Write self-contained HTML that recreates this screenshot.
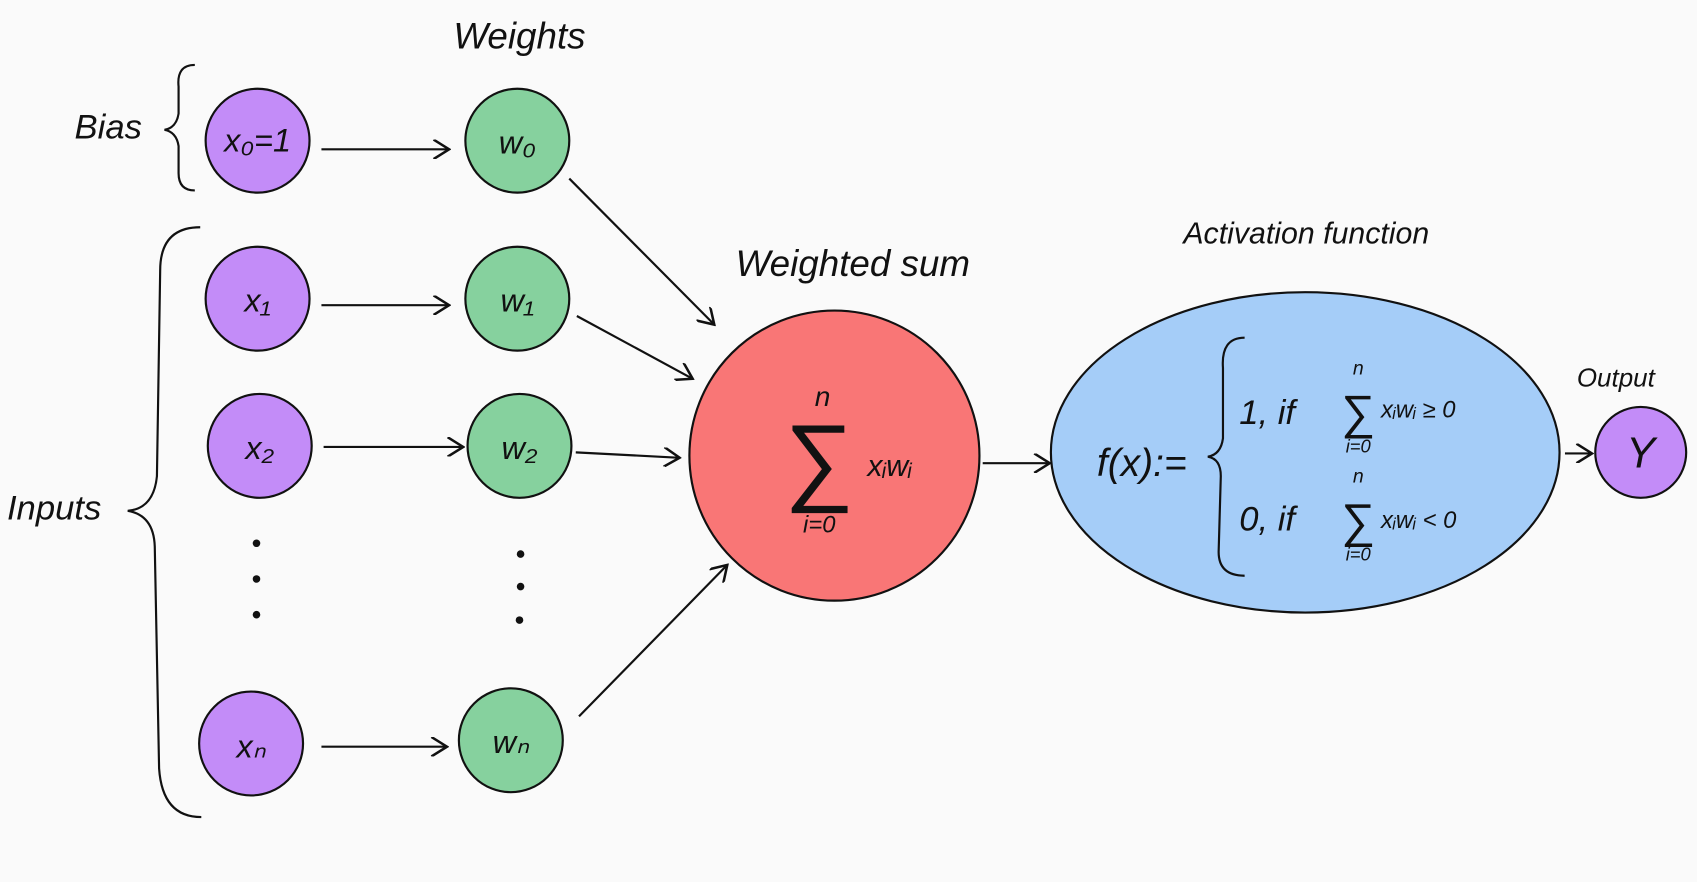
<!DOCTYPE html>
<html><head><meta charset="utf-8">
<style>
html,body{margin:0;padding:0;background:#fafafa;}
svg{display:block;}
text{font-family:"Liberation Sans",sans-serif;font-style:italic;fill:#111;}
</style></head>
<body>
<svg width="1697" height="882" viewBox="0 0 1568 815" preserveAspectRatio="none" xmlns="http://www.w3.org/2000/svg">
<defs>
<marker id="ah" viewBox="0 0 10 10" refX="9" refY="5" markerWidth="9" markerHeight="9" orient="auto-start-reverse">
<path d="M1,0 L9,5 L1,10" fill="none" stroke="#111" stroke-width="1.3"/>
</marker>
</defs>
<rect width="1568" height="815" fill="#fafafa"/>
<g stroke="#111" stroke-width="2" fill="none">
<path d="M180,60 Q163,60 165,80 L165,105 Q163,118 152,120 Q163,122 165,135 L165,160 Q165,176 180,176"/>
<path d="M185,210 Q148,210 148,250 L145,440 Q142,470 118,472 Q142,476 143,505 L147,710 Q150,755 186,755"/>
</g>
<g stroke="#111" stroke-width="2">
<circle cx="238" cy="130" r="48" fill="#c38cf8"/>
<circle cx="238" cy="276" r="48" fill="#c38cf8"/>
<circle cx="240" cy="412" r="48" fill="#c38cf8"/>
<circle cx="232" cy="687" r="48" fill="#c38cf8"/>
<circle cx="478" cy="130" r="48" fill="#86d19e"/>
<circle cx="478" cy="276" r="48" fill="#86d19e"/>
<circle cx="480" cy="412" r="48" fill="#86d19e"/>
<circle cx="472" cy="684" r="48" fill="#86d19e"/>
<circle cx="771" cy="421" r="134" fill="#f97676"/>
<ellipse cx="1206" cy="418" rx="235" ry="148" fill="#a5cdf8"/>
<circle cx="1516" cy="418" r="42" fill="#c38cf8"/>
</g>
<g fill="#111">
<circle cx="237" cy="502" r="3.5"/><circle cx="237" cy="535" r="3.5"/><circle cx="237" cy="568" r="3.5"/>
<circle cx="481" cy="512" r="3.5"/><circle cx="481" cy="542" r="3.5"/><circle cx="480" cy="573" r="3.5"/>
</g>
<g stroke="#111" stroke-width="2" fill="none" marker-end="url(#ah)">
<line x1="297" y1="138" x2="415" y2="138"/>
<line x1="297" y1="282" x2="415" y2="282"/>
<line x1="299" y1="413" x2="428" y2="413"/>
<line x1="297" y1="690" x2="413" y2="690"/>
<line x1="526" y1="165" x2="660" y2="300"/>
<line x1="533" y1="292" x2="640" y2="350"/>
<line x1="532" y1="418" x2="628" y2="423"/>
<line x1="535" y1="662" x2="672" y2="522"/>
<line x1="908" y1="428" x2="970" y2="428"/>
<line x1="1446" y1="419" x2="1471" y2="419"/>
</g>
<text x="480" y="45" font-size="34" text-anchor="middle">Weights</text>
<text x="100" y="128" font-size="32" text-anchor="middle">Bias</text>
<text x="50" y="480" font-size="32" text-anchor="middle">Inputs</text>
<text x="788" y="255" font-size="34" text-anchor="middle">Weighted sum</text>
<text x="1207" y="225" font-size="28" text-anchor="middle">Activation function</text>
<text x="1493" y="357" font-size="24" text-anchor="middle">Output</text>
<g font-size="30" text-anchor="middle">
<text x="238" y="140">x₀=1</text>
<text x="238" y="288">x₁</text>
<text x="240" y="424">x₂</text>
<text x="232" y="700">xₙ</text>
<text x="478" y="142">w₀</text>
<text x="478" y="288">w₁</text>
<text x="480" y="424">w₂</text>
<text x="472" y="696">wₙ</text>
<text x="1516" y="432" font-size="40">Y</text>
</g>
<g>
<text x="760" y="375" font-size="26" text-anchor="middle">n</text>
<text x="757" y="455" font-size="90" text-anchor="middle" style="font-style:normal">∑</text>
<text x="822" y="440" font-size="28" text-anchor="middle">xᵢwᵢ</text>
<text x="757" y="492" font-size="22" text-anchor="middle">i=0</text>
</g>
<g>
<text x="1055" y="440" font-size="36" text-anchor="middle">f(x):=</text>
<path d="M1150,312 Q1128,312 1130,340 L1130,405 Q1128,420 1116,422 Q1128,424 1128,440 L1126,510 Q1126,532 1150,532" stroke="#111" stroke-width="2" fill="none"/>
<text x="1145" y="392" font-size="32">1, if</text>
<text x="1255" y="346" font-size="18" text-anchor="middle">n</text>
<text x="1255" y="396" font-size="44" text-anchor="middle" style="font-style:normal">∑</text>
<text x="1255" y="418" font-size="17" text-anchor="middle">i=0</text>
<text x="1276" y="386" font-size="22">xᵢwᵢ ≥ 0</text>
<text x="1145" y="490" font-size="32">0, if</text>
<text x="1255" y="446" font-size="18" text-anchor="middle">n</text>
<text x="1255" y="496" font-size="44" text-anchor="middle" style="font-style:normal">∑</text>
<text x="1255" y="518" font-size="17" text-anchor="middle">i=0</text>
<text x="1276" y="488" font-size="22">xᵢwᵢ &lt; 0</text>
</g>
</svg>
</body></html>
